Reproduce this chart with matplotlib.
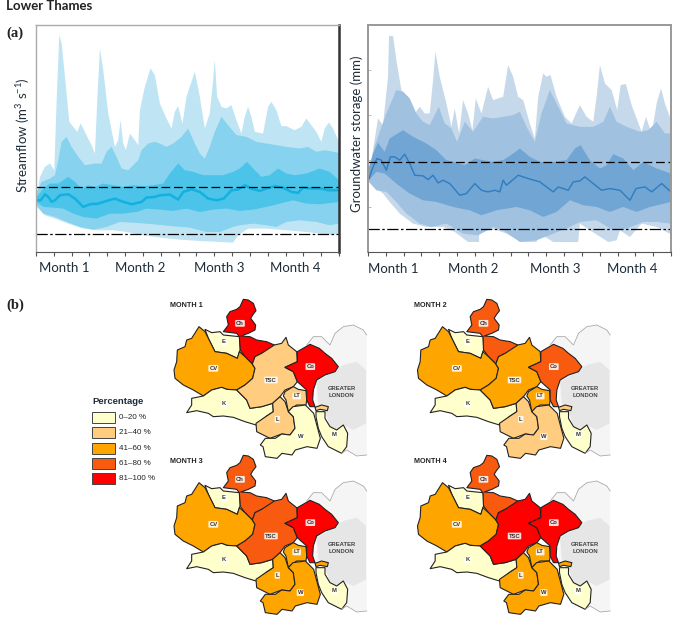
import numpy as np
import matplotlib
matplotlib.use("Agg")
import matplotlib.pyplot as plt
from matplotlib.patches import Polygon, Rectangle

plt.rcParams['font.family'] = ['Lato', 'DejaVu Sans']
plt.rcParams['mathtext.default'] = 'regular'

W, H = 680, 630

# envelopes, no numbers on the y scale
sf_outer_up = [(110,590),(120,530),(135,500),(150,490),(163,510),(170,300),(178,105),(185,130),(195,230),(208,365),(220,380),(232,395),(242,370),(250,385),(262,410),(275,435),(285,460),(292,300),(300,145),(310,210),(325,340),(345,440),(355,420),(362,360),(370,430),(378,450),(390,400),(405,420),(415,435),(420,330),(435,260),(452,205),(465,225),(480,310),(500,355),(515,385),(525,335),(535,318),(548,370),(560,290),(570,260),(585,215),(600,290),(615,385),(630,340),(640,240),(645,180),(652,290),(665,320),(680,325),(695,315),(710,360),(725,400),(735,350),(745,320),(755,350),(765,395),(790,400),(805,320),(815,305),(830,330),(845,378),(860,378),(885,390),(905,380),(920,355),(935,375),(950,395),(965,425),(975,385),(988,367),(1000,385),(1018,425)]
sf_outer_low = [(110,620),(135,645),(165,655),(210,672),(250,685),(290,690),(340,690),(380,695),(430,705),(480,712),(540,718),(600,722),(660,725),(700,727),(715,705),(745,685),(800,685),(860,690),(920,695),(960,700),(1000,705),(1018,700)]
sf_mid_up = [(110,575),(125,545),(150,535),(165,525),(175,480),(185,425),(200,410),(215,440),(235,470),(255,495),(285,490),(305,490),(320,455),(335,440),(350,470),(365,505),(385,510),(400,495),(415,480),(425,450),(445,430),(465,425),(480,430),(500,440),(520,430),(545,410),(565,385),(585,430),(600,460),(615,475),(630,440),(645,395),(665,350),(685,375),(710,405),(740,410),(770,425),(800,430),(830,435),(860,440),(900,445),(925,440),(950,455),(975,450),(1018,458)]
sf_mid_low = [(110,615),(130,640),(165,650),(200,665),(240,680),(280,688),(320,680),(360,665),(410,668),(460,672),(520,678),(570,682),(620,695),(660,695),(700,680),(720,675),(760,670),(800,675),(830,680),(860,665),(900,660),(950,665),(990,675),(1018,670)]
sf_dark_up = [(110,590),(130,565),(150,550),(175,550),(205,530),(225,545),(245,565),(265,555),(285,560),(310,550),(340,555),(370,560),(400,555),(430,558),(460,555),(490,550),(510,520),(535,490),(555,510),(580,515),(610,525),(640,525),(670,525),(700,515),(720,505),(742,485),(760,505),(785,530),(810,525),(835,505),(860,520),(885,525),(920,520),(960,505),(990,515),(1018,540)]
sf_dark_low = [(110,605),(130,620),(160,622),(190,625),(220,640),(250,650),(290,655),(330,640),(370,640),(410,635),(440,625),(480,628),(520,632),(560,625),(600,635),(640,628),(680,625),(720,632),(760,628),(800,620),(840,610),(880,600),(920,610),(960,612),(1018,605)]
sf_median = [(110,600),(122,600),(135,582),(145,590),(155,605),(165,600),(180,585),(205,582),(225,595),(250,620),(270,612),(295,610),(320,602),(345,595),(365,603),(395,612),(425,605),(440,592),(465,590),(480,585),(510,583),(535,598),(550,575),(575,567),(600,575),(625,595),(650,600),(672,595),(695,570),(715,568),(735,555),(755,565),(780,572),(800,565),(825,558),(850,562),(875,575),(895,578),(910,562),(935,565),(965,565),(985,570),(1018,570)]

gw_outer_up = [(88,500),(100,420),(115,325),(130,345),(145,200),(148,78),(160,78),(170,150),(185,240),(205,260),(225,310),(240,290),(255,310),(270,310),(280,210),(287,125),(300,200),(320,280),(335,350),(345,295),(358,370),(370,270),(385,310),(398,360),(408,265),(425,310),(445,230),(460,270),(475,265),(490,260),(505,165),(520,200),(535,260),(550,270),(570,340),(585,385),(595,260),(610,190),(620,200),(632,195),(650,260),(675,320),(695,340),(720,285),(740,320),(760,335),(770,260),(780,165),(795,220),(815,240),(832,300),(842,225),(858,222),(875,285),(905,365),(918,320),(935,370),(950,280),(963,235),(975,280),(993,330)]
gw_outer_low = [(88,515),(105,530),(130,550),(150,575),(180,610),(220,640),(260,650),(310,650),(345,665),(385,695),(418,695),(418,670),(460,655),(500,670),(545,695),(590,695),(600,670),(640,695),(715,695),(720,640),(750,660),(805,695),(830,690),(840,660),(870,680),(905,640),(950,650),(993,672)]
gw_mid_up = [(88,500),(105,410),(120,365),(140,310),(170,240),(190,245),(210,265),(230,310),(250,335),(270,345),(297,290),(315,340),(335,355),(352,395),(375,335),(400,365),(430,320),(460,325),(490,320),(520,315),(540,305),(560,350),(585,395),(605,310),(630,240),(655,290),(680,340),(720,350),(760,350),(790,335),(810,290),(830,335),(860,350),(900,365),(925,360),(950,335),(975,370),(993,370)]
gw_mid_low = [(88,515),(110,540),(140,545),(165,570),(200,610),(240,640),(275,650),(320,640),(370,670),(415,675),(460,650),(490,660),(540,695),(590,690),(640,670),(690,650),(720,635),(770,630),(820,660),(860,655),(910,635),(950,635),(993,640)]
gw_dark_up = [(88,470),(100,430),(115,398),(135,425),(150,385),(190,360),(220,380),(260,400),(290,420),(320,450),(345,455),(375,465),(405,445),(430,450),(460,455),(490,450),(520,430),(540,415),(570,440),(600,455),(640,455),(680,450),(705,415),(722,405),(750,450),(780,475),(800,465),(820,432),(850,445),(880,480),(910,455),(950,475),(993,490)]
gw_dark_low = [(88,510),(110,485),(135,490),(170,520),(210,550),(250,570),(290,575),(340,590),(390,600),(425,615),(470,600),(530,590),(570,600),(610,620),(650,605),(690,570),(730,585),(770,590),(810,605),(850,590),(890,605),(930,590),(993,575)]
gw_median = [(88,505),(100,470),(112,445),(125,450),(140,480),(152,440),(165,440),(180,450),(195,432),(210,460),(225,495),(250,497),(265,508),(280,495),(295,518),(310,510),(330,520),(360,555),(380,550),(405,520),(425,540),(445,545),(465,540),(480,545),(490,510),(500,525),(535,495),(565,505),(600,515),(640,545),(655,530),(685,540),(700,515),(720,512),(735,500),(760,520),(785,540),(810,535),(840,540),(870,570),(888,535),(915,530),(935,545),(965,520),(993,545)]

month_labels = ['Month 1', 'Month 2', 'Month 3', 'Month 4']
month_names = ['MONTH 1', 'MONTH 2', 'MONTH 3', 'MONTH 4']

# catchment outlines
regions = {
    'Ch': [(490,28),(505,30),(520,40),(528,62),(518,75),(512,85),(527,105),(525,120),(505,130),(482,138),(510,140),(530,150),(560,155),(583,165),(580,180),(545,190),(525,200),(517,222),(495,200),(480,180),(478,140),(470,130),(430,125),(445,105),(440,80),(450,65),(470,58),(480,50)],
    'E': [(375,118),(395,128),(420,125),(430,135),(478,140),(480,180),(472,205),(440,190),(405,185),(395,165),(385,145)],
    'CV': [(357,110),(375,125),(385,145),(395,165),(405,185),(440,190),(472,205),(478,185),(495,200),(517,222),(525,235),(518,265),(495,285),(470,300),(440,298),(425,292),(395,300),(370,318),(340,300),(310,285),(285,265),(282,240),(290,215),(292,180),(315,170),(320,150),(335,145)],
    'K': [(370,318),(395,300),(425,292),(440,298),(470,300),(500,330),(510,355),(545,350),(578,340),(580,365),(560,378),(528,405),(495,395),(460,382),(430,378),(400,380),(385,370),(350,362),(320,368),(335,345),(335,325)],
    'TSC': [(517,222),(525,200),(545,190),(583,165),(605,160),(618,142),(625,165),(650,185),(652,215),(615,232),(640,245),(652,275),(640,290),(615,300),(600,320),(578,340),(545,350),(510,355),(500,330),(470,300),(495,285),(518,265),(525,235)],
    'LT': [(615,305),(640,290),(655,298),(678,302),(680,330),(678,345),(650,345),(635,355),(625,365),(618,330),(610,318)],
    'L': [(600,320),(615,335),(625,365),(640,380),(645,415),(630,435),(605,432),(570,445),(530,425),(528,400),(560,378),(580,365),(578,340)],
    'W': [(639,350),(676,345),(701,370),(709,400),(721,445),(711,475),(681,470),(646,480),(636,495),(606,490),(591,505),(556,500),(549,470),(541,465),(556,445),(586,445),(605,432),(630,435),(645,415),(640,380),(625,365)],
    'M': [(708,365),(735,365),(735,385),(750,410),(770,420),(790,405),(803,430),(800,470),(785,490),(745,470),(725,440),(715,415),(708,380)],
    'H': [(705,352),(725,345),(745,350),(742,362),(720,358),(708,362)],
    'Co': [(690,163),(718,175),(735,190),(755,205),(775,230),(765,245),(735,255),(710,270),(700,300),(698,330),(705,350),(690,350),(680,330),(680,300),(652,275),(640,245),(615,232),(652,215),(652,185)],
}
label_pos = {'Ch': (480,100), 'E': (432,155), 'CV': (400,235), 'K': (432,342), 'TSC': (573,270),
             'LT': (650,318), 'L': (592,388), 'W': (661,440), 'M': (763,435), 'Co': (691,230)}
london_edge = [(860,135),(850,120),(820,105),(790,110),(765,130),(750,165),(725,140),(700,140),(680,165)]
london_edge_south = [(785,490),(800,480),(830,498),(860,495)]
london_fill = [(680,165),(700,140),(725,140),(750,165),(765,130),(790,110),(820,105),(850,120),(860,135),(860,495),(830,498),(800,480),(790,405),(770,420),(750,410),(735,365),(705,350),(710,270),(735,255),(775,230),(735,190),(718,175)]
london_core = [(745,255),(790,225),(830,215),(858,240),(858,400),(820,420),(790,405),(770,420),(750,410),(735,365),(715,340),(710,275)]

classes = ['0–20 %', '21–40 %', '41–60 %', '61–80 %', '81–100 %']
class_colors = ['#ffffcc', '#ffcc80', '#ffa500', '#f85a10', '#ff0000']
month_class = [
    {'Ch': 4, 'E': 0, 'CV': 2, 'K': 0, 'TSC': 1, 'LT': 1, 'L': 1, 'W': 0, 'M': 0, 'H': 1, 'Co': 4},
    {'Ch': 3, 'E': 0, 'CV': 2, 'K': 0, 'TSC': 2, 'LT': 2, 'L': 1, 'W': 1, 'M': 0, 'H': 1, 'Co': 3},
    {'Ch': 3, 'E': 0, 'CV': 2, 'K': 0, 'TSC': 3, 'LT': 2, 'L': 2, 'W': 2, 'M': 0, 'H': 2, 'Co': 4},
    {'Ch': 3, 'E': 0, 'CV': 2, 'K': 0, 'TSC': 4, 'LT': 2, 'L': 2, 'W': 2, 'M': 0, 'H': 2, 'Co': 4},
]


def px_axes(fig, x0, y0, x1, y1):
    return fig.add_axes([x0 / W, 1 - y1 / H, (x1 - x0) / W, (y1 - y0) / H])


def band(ax, up, low, color, x0, y0):
    up = np.array(up, dtype=float)
    low = np.array(low, dtype=float)[::-1]
    pts = np.vstack([up, low])
    ax.fill(pts[:, 0] - x0, y0 - pts[:, 1], color=color, lw=0)


def hydro_panel(ax, bands, median, colors, line_color, line_w, x0, y0, hi, lo, x_end):
    for (up, low), c in zip(bands, colors):
        band(ax, up, low, c, x0, y0)
    med = np.array(median, dtype=float)
    ax.plot(med[:, 0] - x0, y0 - med[:, 1], color=line_color, lw=line_w)
    ax.axhline(y0 - hi, color='black', lw=0.9, dashes=(7, 3))
    ax.axhline(y0 - lo, color='black', lw=0.9, dashes=(9, 2, 2, 2))
    ax.set_xlim(0, x_end - x0)
    ax.set_ylim(0, 680)
    ax.set_xticks(np.linspace(0, x_end - x0, 18))
    ax.set_xticklabels([])
    ax.set_yticks([])
    ax.tick_params(axis='x', length=3, width=0.8, color='#555555')


fig = plt.figure(figsize=(W / 100, H / 100), dpi=100)

# (a) hydrographs
ax1 = px_axes(fig, 36, 25, 339, 252)
hydro_panel(ax1, [(sf_outer_up, sf_outer_low), (sf_mid_up, sf_mid_low), (sf_dark_up, sf_dark_low)], sf_median,
            ['#bfe5f4', '#87d2ee', '#4cc3e8'], '#12b2e0', 1.8, 108, 755, 560, 700, 1018)
for s in ['top', 'left']:
    ax1.spines[s].set_color('#aaaaaa')
    ax1.spines[s].set_linewidth(1.0)
ax1.spines['right'].set_color('#333333')
ax1.spines['right'].set_linewidth(1.8)
ax1.spines['bottom'].set_color('#555555')

ax2 = px_axes(fig, 368, 25, 671, 252)
hydro_panel(ax2, [(gw_outer_up, gw_outer_low), (gw_mid_up, gw_mid_low), (gw_dark_up, gw_dark_low)], gw_median,
            ['#c6d9ea', '#a0c1df', '#71a5d3'], '#2f7cc0', 1.0, 85, 725, 456, 655, 993)
for s in ['top', 'left', 'right']:
    ax2.spines[s].set_color('#999999')
    ax2.spines[s].set_linewidth(1.4)
ax2.spines['bottom'].set_color('#555555')
ax2.set_yticks([135, 275, 410, 545])
ax2.set_yticklabels([])
ax2.tick_params(axis='y', length=2, width=0.7, color='#bbbbbb', direction='in')

# everything placed in picture pixels goes on this one
bg = fig.add_axes([0, 0, 1, 1], zorder=-1)
bg.set_xlim(0, W)
bg.set_ylim(H, 0)
bg.axis('off')

text_col = '#1f2d3a'
bg.text(6, 6, 'Lower Thames', fontsize=9.5, fontweight='bold', color='#222222', va='center')
bg.text(6, 33, '(a)', fontsize=10.5, fontweight='bold', family='Liberation Serif', color='#222222', va='center')
bg.text(6, 305, '(b)', fontsize=10.5, fontweight='bold', family='Liberation Serif', color='#222222', va='center')
bg.text(23, 135, 'Streamflow (m$^{3}$ s$^{-1}$)', rotation=90, fontsize=9.5, color=text_col, ha='center', va='center')
bg.text(357, 134, 'Groundwater storage (mm)', rotation=90, fontsize=9.5, color=text_col, ha='center', va='center')
for lab, x in zip(month_labels, [64, 140, 219, 295]):
    bg.text(x, 268, lab, fontsize=9.5, color=text_col, ha='center', va='center')
for lab, x in zip(month_labels, [393, 473, 555, 632]):
    bg.text(x, 269, lab, fontsize=9.5, color=text_col, ha='center', va='center')

# legend
bg.text(92, 402, 'Percentage', fontsize=6.8, fontweight='bold', family='Liberation Sans', color=text_col, va='center')
for i, (lab, c) in enumerate(zip(classes, class_colors)):
    yc = 417.5 + i * 15.3
    bg.add_patch(Rectangle((92, yc - 5.5), 23, 11, fc=c, ec='#444444', lw=0.7))
    bg.text(119, yc, lab, fontsize=5.8, family='Liberation Sans', color='#222222', va='center')

# (b) maps
map_shift = [(0, 0), (243.5, 0), (0, 156), (243.5, 156)]
for name, (dx, dy), cls in zip(month_names, map_shift, month_class):
    ax = px_axes(fig, 170 + dx, 296.67 + dy, 370 + dx, 463.33 + dy)
    ax.set_xlim(270, 870)
    ax.set_ylim(520, 20)
    ax.axis('off')
    ax.patch.set_alpha(0)
    ax.add_patch(Polygon(london_fill, fc='#f5f5f5', ec='none'))
    ax.add_patch(Polygon(london_core, fc='#e6e6e6', ec='none'))
    ax.plot(*zip(*london_edge), color='#aaaaaa', lw=0.6)
    ax.plot(*zip(*london_edge_south), color='#aaaaaa', lw=0.6)
    for key, pts in regions.items():
        ax.add_patch(Polygon(pts, fc=class_colors[cls[key]], ec='#222222', lw=0.8, joinstyle='round'))
    for key, (x, y) in label_pos.items():
        ax.text(x, y, key, fontsize=4.2, fontweight='bold', family='Liberation Sans', color='#333333',
                ha='center', va='center',
                bbox=dict(boxstyle='round,pad=0.15', fc='white', ec='none', alpha=0.85))
    ax.text(785, 297, 'GREATER', fontsize=4.2, fontweight='bold', family='Liberation Sans', color='#444444', ha='center', va='center')
    ax.text(785, 318, 'LONDON', fontsize=4.2, fontweight='bold', family='Liberation Sans', color='#444444', ha='center', va='center')
    ax.text(270, 45, name, fontsize=5.2, fontweight='bold', family='Liberation Sans', color='#222222', va='center', clip_on=False)

fig.savefig('out.png', dpi=100)
